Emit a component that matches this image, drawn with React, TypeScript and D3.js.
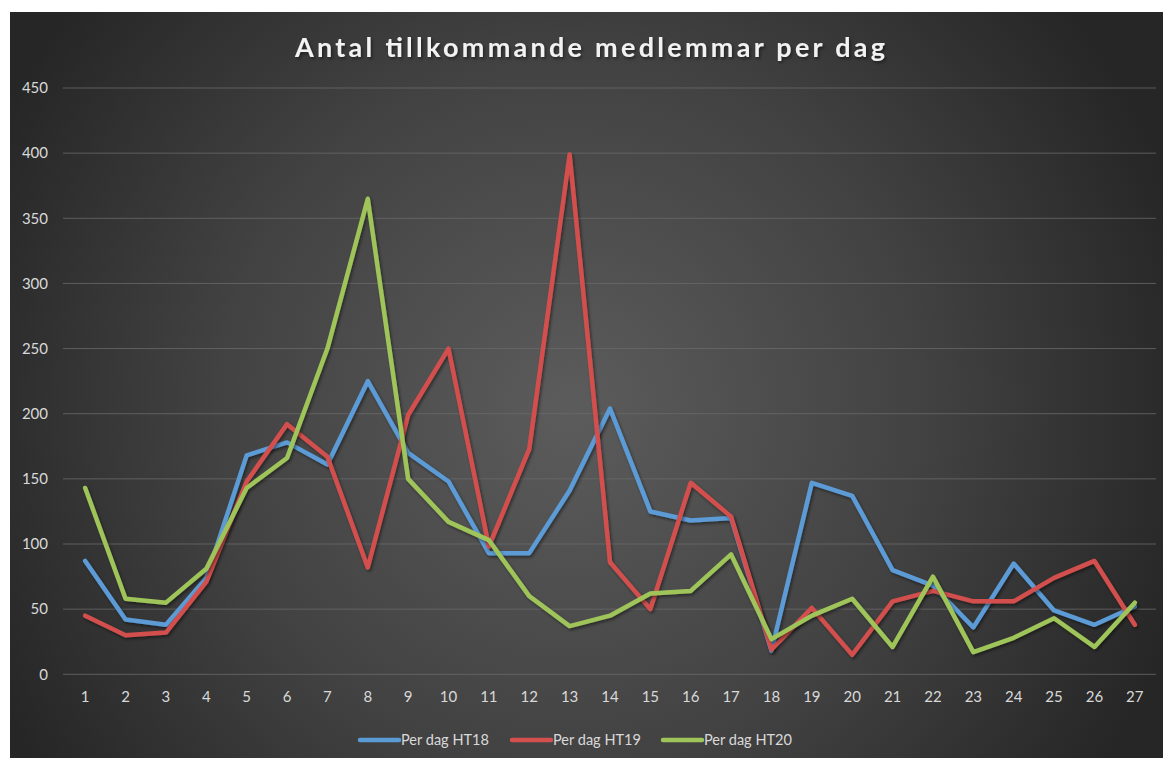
import React from "react";
import * as d3 from "d3";

const categories = Array.from({ length: 27 }, (_, i) => String(i + 1));
const ht18 = [87, 42, 38, 74, 168, 178, 161, 225, 170, 148, 93, 93, 141, 204, 125, 118, 120, 18, 147, 137, 80, 68, 36, 85, 49, 38, 52];
const ht19 = [45, 30, 32, 71, 148, 192, 167, 82, 199, 250, 98, 173, 399, 86, 50, 147, 121, 19, 51, 15, 56, 64, 56, 56, 74, 87, 38];
const ht20 = [143, 58, 55, 81, 143, 166, 250, 365, 150, 117, 103, 60, 37, 45, 62, 64, 92, 27, 45, 58, 21, 75, 17, 28, 43, 21, 55];
const yTicks = [0, 50, 100, 150, 200, 250, 300, 350, 400, 450];
const seriesNames = ["Per dag HT18", "Per dag HT19", "Per dag HT20"];
const seriesColors = ["#5b9bd5", "#d3504e", "#9fc55a"];
const title = "Antal tillkommande medlemmar per dag";

const W = 1163;
const H = 758;
const FONT = "Lato, 'Open Sans', 'DejaVu Sans', sans-serif";

export default function App() {
  const x = d3.scaleBand<string>().domain(categories).range([65, 1155]);
  const y = d3.scaleLinear().domain([0, 450]).range([674.3, 88]);
  const line = d3
    .line<number>()
    .x((_, i) => (x(categories[i]) as number) + x.bandwidth() / 2)
    .y((d) => y(d));
  const all = [ht18, ht19, ht20];
  const legendX = [360, 512, 663];

  return (
    <div style={{ position: "fixed", left: 0, top: 0, width: W, height: H, background: "#fff" }}>
      <svg width={W} height={H} style={{ display: "block" }}>
        <defs>
          <radialGradient id="bg" cx="570" cy="410" r="640" gradientUnits="userSpaceOnUse">
            <stop offset="0" stopColor="#5c5c5c" />
            <stop offset="0.55" stopColor="#424242" />
            <stop offset="1" stopColor="#262626" />
          </radialGradient>
          <filter id="sh" x="-10%" y="-10%" width="120%" height="120%">
            <feDropShadow dx="1.5" dy="2" stdDeviation="1.5" floodColor="#000" floodOpacity="0.45" />
          </filter>
        </defs>
        <rect x={10} y={12} width={W - 10} height={H - 12} fill="url(#bg)" />
        <text
          x={590}
          y={57}
          textAnchor="middle"
          fill="#f2f2f2"
          fontFamily={FONT}
          fontWeight="bold"
          fontSize={27}
          textLength={590}
          lengthAdjust="spacing"
          filter="url(#sh)"
        >
          {title}
        </text>
        {yTicks.map((t) => (
          <g key={t}>
            <line x1={63} x2={1156} y1={y(t)} y2={y(t)} stroke="#6a6a6a" strokeOpacity={0.8} strokeWidth={1} />
            <text x={48} y={y(t)} dy="0.35em" textAnchor="end" fill="#d9d9d9" fontFamily={FONT} fontSize={15}>
              {t}
            </text>
          </g>
        ))}
        {categories.map((c) => (
          <text
            key={c}
            x={(x(c) as number) + x.bandwidth() / 2}
            y={697}
            dy="0.35em"
            textAnchor="middle"
            fill="#d9d9d9"
            fontFamily={FONT}
            fontSize={15}
          >
            {c}
          </text>
        ))}
        {all.map((s, i) => (
          <path
            key={i}
            d={line(s) || ""}
            fill="none"
            stroke={seriesColors[i]}
            strokeWidth={4.5}
            strokeLinejoin="round"
            strokeLinecap="round"
            filter="url(#sh)"
          />
        ))}
        {seriesNames.map((n, i) => (
          <g key={n}>
            <line
              x1={legendX[i]}
              x2={legendX[i] + 39}
              y1={740}
              y2={740}
              stroke={seriesColors[i]}
              strokeWidth={4.5}
              strokeLinecap="round"
            />
            <text
              x={legendX[i] + 41}
              y={740}
              dy="0.35em"
              fill="#d9d9d9"
              fontFamily={FONT}
              fontSize={15}
              textLength={88}
              lengthAdjust="spacingAndGlyphs"
            >
              {n}
            </text>
          </g>
        ))}
      </svg>
    </div>
  );
}
